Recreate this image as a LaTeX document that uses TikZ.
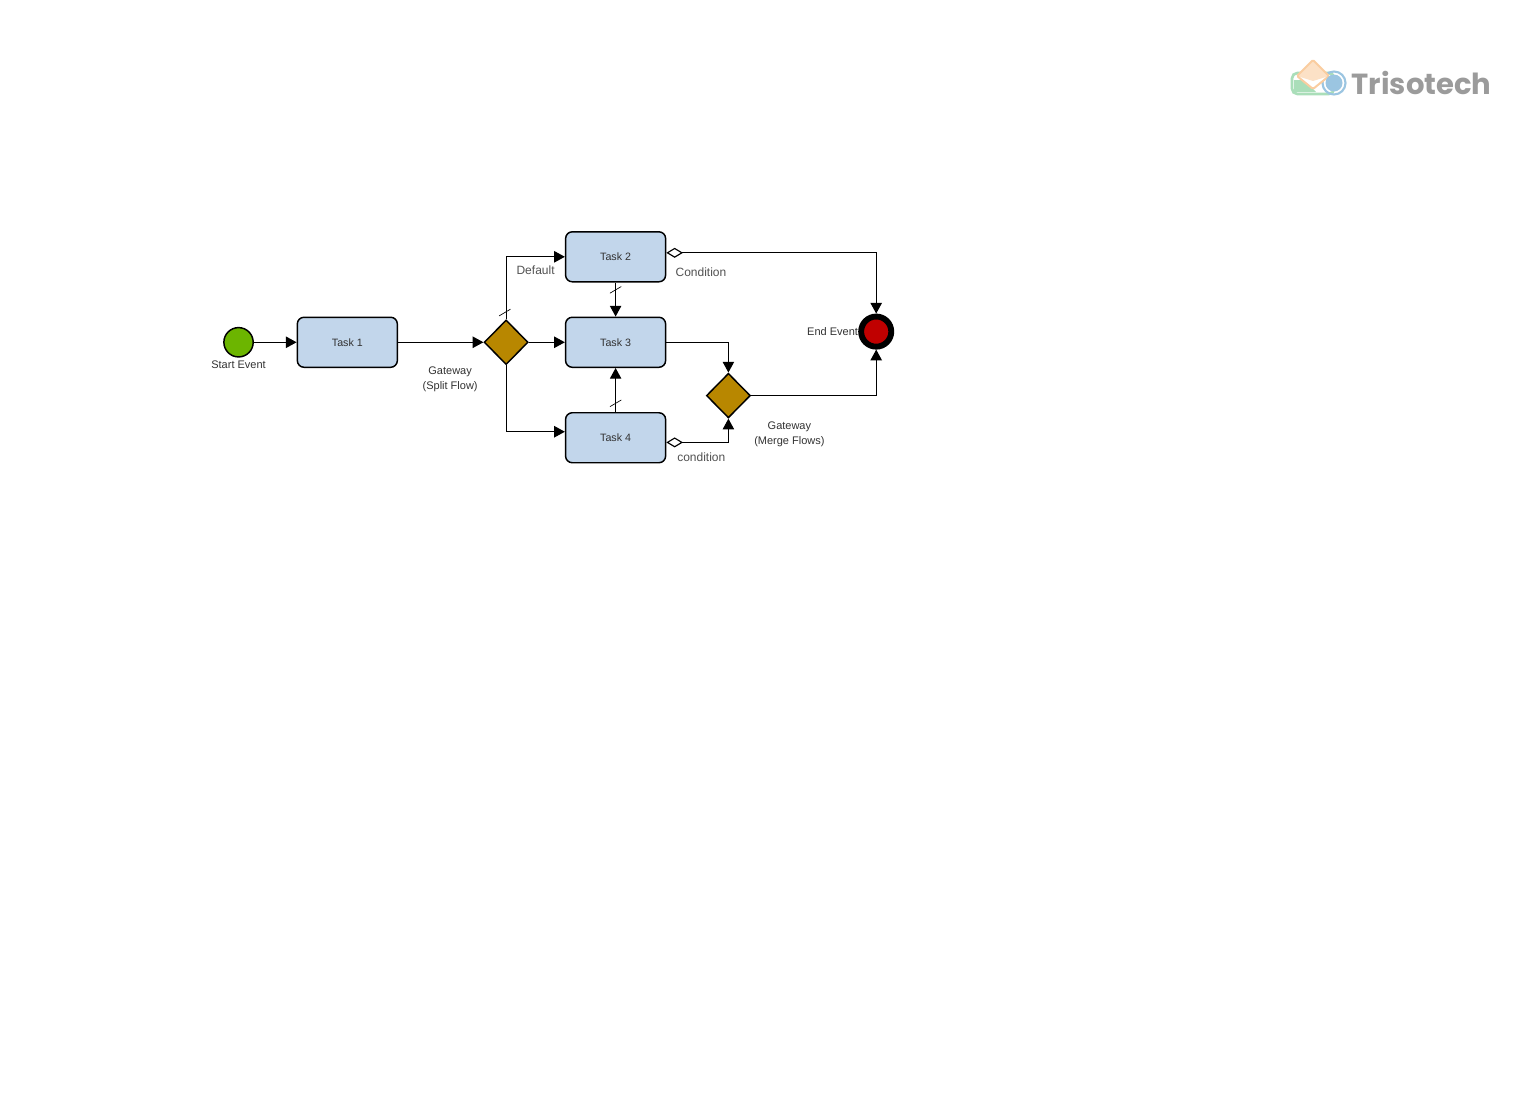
\documentclass[tikz,border=0pt]{standalone}
\usepackage{fontspec}
\setmainfont{Liberation Sans}
\newfontfamily\logofont{Poppins}
\usetikzlibrary{shapes.geometric, shapes.misc, arrows.meta, positioning, calc}
\definecolor{colTask}{RGB}{194,214,235}
\definecolor{colGateway}{RGB}{184,135,0}
\definecolor{colStart}{RGB}{108,181,0}
\definecolor{colEnd}{RGB}{192,0,0}
\definecolor{colText}{RGB}{50,50,50}
\definecolor{colLogoText}{RGB}{155,155,155}
\definecolor{colLogoGreen}{RGB}{170,222,185}
\definecolor{colLogoOrange}{RGB}{250,205,160}
\definecolor{colLogoBlue}{RGB}{155,197,225}
\tikzset{
    task/.style={rectangle, draw=black, rounded corners=5pt, line width=1.1pt, fill=colTask,
        minimum width=75pt, minimum height=37.5pt, align=center, text=colText,
        font=\fontsize{8}{10}\selectfont},
    gateway/.style={diamond, draw=black, line width=1.1pt, fill=colGateway,
        minimum width=33pt, minimum height=33.5pt, inner sep=0pt},
    startevent/.style={circle, draw=black, line width=1.1pt, fill=colStart,
        minimum size=22pt, inner sep=0pt},
    endevent/.style={circle, draw=black, line width=4.4pt, fill=colEnd,
        minimum size=22.6pt, inner sep=0pt},
    lbl/.style={inner sep=0pt, align=center, text=colText,
        font=\fontsize{8.25}{11.25}\selectfont},
    lblwide/.style={inner sep=0pt, align=center, text=colText!85,
        font=\fontsize{9}{11}\selectfont},
    flow/.style={-{Triangle[length=8pt,width=8.5pt]}, line width=0.85pt},
    condflow/.style={{Diamond[open,length=12.5pt,width=7.5pt]}-{Triangle[length=8pt,width=8.5pt]}, line width=0.85pt},
    slash/.style={strike out, draw=black, line width=0.5pt, minimum width=8pt, minimum height=4.5pt, inner sep=0pt}
}

\begin{document}
\begin{tikzpicture}
    \useasboundingbox (0,0) rectangle (1151.25pt,-825pt);

    % process
    \node[startevent] (start) at (178.9pt,-256.7pt) {};
    \node[task, right=32pt of start] (task1) {Task 1};
    \node[gateway, right=64pt of task1] (split) {};
    \node[task, right=27pt of split] (task3) {Task 3};
    \node[task, above=25.5pt of task3] (task2) {Task 2};
    \node[task, below=33pt of task3] (task4) {Task 4};
    \node[gateway, right=29.5pt of task3, yshift=-40pt] (merge) {};
    \node[endevent, right=80.3pt of merge, yshift=48pt] (end) {};

    % labels
    \node[lbl, below=2.2pt of start] (startlbl) {Start Event};
    \node[lbl, below=1pt of split, xshift=-42pt] (splitlbl) {Gateway\\(Split Flow)};
    \node[lbl, below=2.5pt of merge, xshift=45.75pt] (mergelbl) {Gateway\\(Merge Flows)};
    \node[lbl, left=0pt of end] (endlbl) {End Event};
    \node[lblwide, left=7.5pt of task2, yshift=-10pt] (defaultlbl) {Default};
    \node[lblwide, right=6.75pt of task2, yshift=-11.4pt] (condlbl) {Condition};
    \node[lblwide, right=8pt of task4, yshift=-14.6pt] (condlbltwo) {condition};

    % flows
    \draw[flow] (start) -- (task1);
    \draw[flow] (task1) -- (split);
    \draw[flow] (split) -- (task3);
    \draw[flow] (split.north) |- (task2.west);
    \draw[flow] (split.south) |- ([yshift=4.5pt]task4.west);
    \draw[flow] (task2) -- (task3);
    \draw[flow] (task4) -- (task3);
    \draw[flow] (task3.east) -| (merge.north);
    \draw[flow] (merge.east) -| (end.south);
    \draw[condflow] ([yshift=3pt]task2.east) -| (end.north);
    \draw[condflow] ([yshift=-3.5pt]task4.east) -| (merge.south);

    % default markers
    \node[slash, above=2.5pt of split, xshift=-1pt] (slashsplit) {};
    \node[slash, below=3pt of task2] (slashtwo) {};
    \node[slash, above=4pt of task4] (slashfour) {};

    % logo
    \begin{scope}[x=0.75pt, y=-0.75pt]
        \draw[colLogoGreen, line width=2pt, rounded corners=4pt] (1292,73) rectangle (1334,94);
        \fill[colLogoGreen] (1294,80) -- (1294,92) -- (1316,92) -- (1305,80) -- cycle;
        \draw[colLogoBlue, line width=1.6pt] (1334,83) circle (11.5);
        \fill[white] (1313,60) -- (1329,76) -- (1313,89) -- (1297,76) -- cycle;
        \fill[colLogoOrange!60] (1313,60) -- (1329,76) -- (1313,81) -- (1297,76) -- cycle;
        \draw[colLogoOrange, line width=1.5pt, rounded corners=1pt] (1313,60) -- (1329,76) -- (1313,89) -- (1297,76) -- cycle;
        \fill[colLogoBlue] (1334,83) circle (8.5);
    \end{scope}
    \node[anchor=base west, inner sep=0pt, text=colLogoText, font=\logofont\fontsize{21.8}{22}\bfseries] (logotext) at (1013.5pt,-70.5pt) {Trisotech};

\end{tikzpicture}
\end{document}
